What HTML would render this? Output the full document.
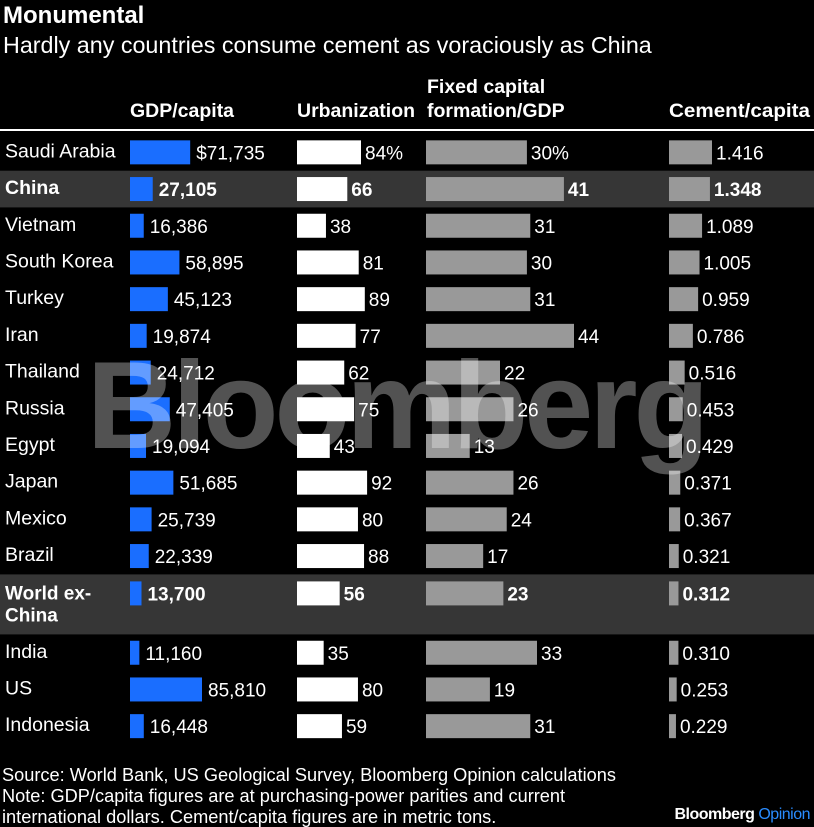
<!DOCTYPE html>
<html><head><meta charset="utf-8">
<style>
html,body{margin:0;padding:0;background:#000;}
svg{display:block;font-family:"Liberation Sans",sans-serif;}
</style></head>
<body>
<svg id="chart" width="814" height="827" viewBox="0 0 814 827" xmlns="http://www.w3.org/2000/svg">
<rect width="814" height="827" fill="#000"/>
<text x="3" y="23" fill="#fff" font-size="24" font-weight="bold">Monumental</text>
<text x="3" y="53" fill="#fff" font-size="23.3">Hardly any countries consume cement as voraciously as China</text>
<g font-size="19.5" font-weight="bold" fill="#fff">
<text x="130" y="117">GDP/capita</text>
<text x="297" y="117" textLength="118" lengthAdjust="spacingAndGlyphs">Urbanization</text>
<text x="427" y="93">Fixed capital</text>
<text x="427" y="117">formation/GDP</text>
<text x="669" y="117" textLength="141" lengthAdjust="spacingAndGlyphs">Cement/capita</text>
</g>
<rect x="0" y="129" width="814" height="2" fill="#fff"/>
<g id="rows"></g>
<text x="396" y="448" fill="#fff" fill-opacity="0.32" font-size="124" font-weight="bold" text-anchor="middle" letter-spacing="-4">Bloomberg</text>
<g font-size="18.2" fill="#fff">
<text x="2" y="781">Source: World Bank, US Geological Survey, Bloomberg Opinion calculations</text>
<text x="2" y="802">Note: GDP/capita figures are at purchasing-power parities and current</text>
<text x="2" y="823">international dollars. Cement/capita figures are in metric tons.</text>
</g>
<text x="810" y="819" text-anchor="end" font-size="16" font-weight="bold" fill="#fff" letter-spacing="-0.5">Bloomberg <tspan fill="#2a8cff" font-weight="normal">Opinion</tspan></text>
</svg>
<script>
const countries=["Saudi Arabia","China","Vietnam","South Korea","Turkey","Iran","Thailand","Russia","Egypt","Japan","Mexico","Brazil","World ex-China","India","US","Indonesia"];
const gdp=[71735,27105,16386,58895,45123,19874,24712,47405,19094,51685,25739,22339,13700,11160,85810,16448];
const urban=[84,66,38,81,89,77,62,75,43,92,80,88,56,35,80,59];
const fcf=[30,41,31,30,31,44,22,26,13,26,24,17,23,33,19,31];
const cement=[1.416,1.348,1.089,1.005,0.959,0.786,0.516,0.453,0.429,0.371,0.367,0.321,0.312,0.310,0.253,0.229];
const highlight=[false,true,false,false,false,false,false,false,false,false,false,false,true,false,false,false];

const NS="http://www.w3.org/2000/svg";
const g=document.getElementById('rows');
function el(tag,attrs,parent){const e=document.createElementNS(NS,tag);for(const k in attrs)e.setAttribute(k,attrs[k]);parent.appendChild(e);return e;}
const xGdp=v=>v*72/85810, xUrb=v=>v*64/84, xFcf=v=>v*148/44, xCem=v=>v*43/1.416;
const cols=[
 {x0:130,arr:gdp,sc:xGdp,color:"#1a6eff",fmt:(v,i)=>(i===0?"$":"")+v.toLocaleString("en-US"),gap:6,name:"gdp"},
 {x0:297,arr:urban,sc:xUrb,color:"#ffffff",fmt:(v,i)=>v+(i===0?"%":""),gap:4,name:"urbanization"},
 {x0:426,arr:fcf,sc:xFcf,color:"#999999",fmt:(v,i)=>v+(i===0?"%":""),gap:4,name:"fcf"},
 {x0:669,arr:cement,sc:xCem,color:"#999999",fmt:v=>v.toFixed(3),gap:4,name:"cement"}
];
let y=134;
countries.forEach((c,i)=>{
  const isWorld=c==="World ex-China";
  const h=isWorld?60:36.7;
  const top=y;
  const row=el('g',{},g);
  
  
  if(highlight[i]){
    const bg=el('rect',{x:0,y:top,width:814,height:h,fill:"#363636"},row);
    
    
  }
  const cy=isWorld?top+19:top+h/2;
  const bold=highlight[i]?"bold":"normal";
  if(isWorld){
    const t=el('text',{x:5,y:cy+6,fill:"#fff","font-size":19,"font-weight":bold},row);t.textContent="World ex-";
    
    const t2=el('text',{x:5,y:cy+28,fill:"#fff","font-size":19,"font-weight":bold},row);t2.textContent="China";
    
  } else {
    const t=el('text',{x:5,y:cy+5,fill:"#fff","font-size":19.5,"font-weight":bold},row);t.textContent=c;
    
  }
  cols.forEach(col=>{
    const w=col.sc(col.arr[i]);
    const b=el('rect',{x:col.x0,y:cy-12,width:w,height:24,fill:col.color},row);
    
    
    const t=el('text',{x:col.x0+w+col.gap,y:cy+7,fill:"#fff","font-size":19,"font-weight":bold},row);
    t.textContent=col.fmt(col.arr[i],i);
    
    
  });
  y+=h;
});
</script>
</body></html>
